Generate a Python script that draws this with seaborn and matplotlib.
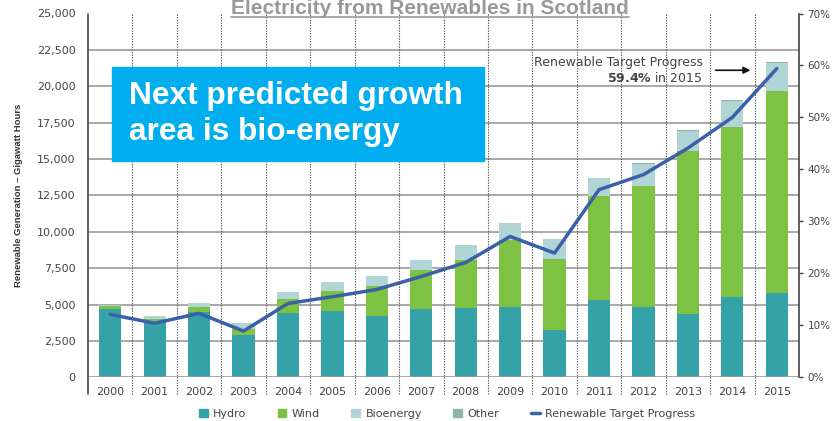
import numpy as np
import pandas as pd
import seaborn as sns
import matplotlib.pyplot as plt
from matplotlib.lines import Line2D
from matplotlib.patches import Patch
from matplotlib.ticker import FuncFormatter

years = list(range(2000, 2016))
hydro = [4706, 3830, 4480, 2920, 4450, 4590, 4245, 4685, 4730, 4865, 3260, 5325, 4845, 4360, 5485, 5790]
wind = [225, 160, 385, 430, 920, 1335, 2025, 2660, 3350, 4545, 4900, 7165, 8335, 11185, 11740, 13870]
bioenergy = [40, 230, 235, 370, 480, 620, 710, 690, 1035, 1200, 1370, 1220, 1470, 1355, 1745, 1930]
other = [30, 0, 0, 0, 0, 0, 0, 0, 0, 0, 0, 0, 95, 90, 90, 110]
target_pct = [12.1, 10.4, 12.3, 8.9, 14.2, 15.5, 16.9, 19.4, 22.1, 27.1, 23.9, 36.1, 39.0, 44.1, 50.0, 59.4]

c_hydro, c_wind, c_bio, c_other = '#35a2a8', '#7dc242', '#b1d4d7', '#8fb3a7'
c_line = '#3a60a8'
txt = '#444444'

df = pd.DataFrame({'year': years, 'hydro': hydro, 'wind': wind,
                   'bio': bioenergy, 'other': other, 'pct': target_pct})
df['s_hydro'] = df['hydro']
df['s_wind'] = df['s_hydro'] + df['wind']
df['s_bio'] = df['s_wind'] + df['bio']
df['s_other'] = df['s_bio'] + df['other']

sns.set_theme(style='white')
plt.rcParams['font.family'] = ['DejaVu Sans']

fig = plt.figure(figsize=(8.34, 4.21), dpi=100)
ax = fig.add_axes([88 / 834, 1 - 377.3 / 421, 711 / 834, 363.8 / 421])

# stacked bars by overlaying cumulative totals (tallest first)
for col, color in [('s_other', c_other), ('s_bio', c_bio), ('s_wind', c_wind), ('s_hydro', c_hydro)]:
    sns.barplot(data=df, x='year', y=col, ax=ax, color=color, width=0.5,
                native_scale=True, orient='x', errorbar=None, saturation=1,
                edgecolor='none', zorder=3)

ax.set_xlim(1999.5, 2015.5)
ax.set_ylim(0, 25000)
ax.set_xlabel('')
ax.set_ylabel('Renewable Generation \u2013 Gigawatt Hours', fontsize=6.8,
              fontweight='bold', color='#333333', family='Liberation Sans', labelpad=10)
yt = np.arange(0, 25001, 2500)
ax.set_yticks(yt)
ax.yaxis.set_major_formatter(FuncFormatter(lambda v, p: f'{int(v):,}'))
ax.set_xticks(years)
ax.set_xticklabels([str(y) for y in years])
ax.tick_params(axis='both', labelsize=8, labelcolor=txt, length=0)
ax.tick_params(axis='x', pad=7)
ax.tick_params(axis='y', pad=9)

for v in yt[1:-1]:
    ax.axhline(v, color='#9a9a9a', lw=1.2, zorder=1)
ax.axhline(0, color='#999999', lw=1.2, zorder=4)
for b in np.arange(2000.5, 2015.5, 1):
    ax.axvline(b, ymin=-0.045, ymax=1, color='#555555', lw=0.8,
               ls=(0, (1.2, 1.2)), clip_on=False, zorder=1)
ax.axvline(1999.5, ymin=-0.045, ymax=1, color='#444444', lw=1.2, clip_on=False, zorder=4)
for s in ['top', 'bottom', 'left', 'right']:
    ax.spines[s].set_visible(False)

# target progress line on secondary axis
ax2 = ax.twinx()
sns.lineplot(data=df, x='year', y='pct', ax=ax2, color=c_line, lw=2.5, zorder=5)
ax2.set_ylim(0, 70)
ax2.set_ylabel('')
ax2.set_yticks(np.arange(0, 71, 10))
ax2.yaxis.set_major_formatter(FuncFormatter(lambda v, p: f'{int(v)}%'))
ax2.tick_params(axis='y', labelsize=7.5, labelcolor=txt, length=3, width=1,
                color='#444444', direction='out', pad=3)
for s in ['top', 'bottom', 'left']:
    ax2.spines[s].set_visible(False)
ax2.spines['right'].set_color('#444444')
ax2.spines['right'].set_linewidth(1.2)

# annotation
ax.text(2013.33, 21620, 'Renewable Target Progress', ha='right', va='center',
        fontsize=9, color=txt, zorder=6)
ax.text(2013.33, 20600, r'$\bf{59.4\%}$ in 2015', ha='right', va='center',
        fontsize=9, color=txt, zorder=6)
ax.annotate('', xy=(2014.47, 21100), xytext=(2013.56, 21100),
            arrowprops=dict(arrowstyle='-|>', color='#111111', lw=1.2, mutation_scale=10),
            zorder=6)

# callout box
fig.patches.append(plt.Rectangle((112 / 834, 1 - 161 / 421), 372 / 834, 94 / 421,
                                 transform=fig.transFigure, color='#00aeef', zorder=10))
fig.text(129 / 834, 1 - 114 / 421, 'Next predicted growth\narea is bio-energy',
         family='Liberation Sans', fontweight='bold', fontsize=22.8, color='white',
         ha='left', va='center', linespacing=1.25, zorder=11)

# title with underline
title = fig.text(430 / 834, 1 - 14 / 421, 'Electricity from Renewables in Scotland',
                 family='Liberation Sans', fontweight='bold', fontsize=15, color='#999999',
                 ha='center', va='baseline')
fig.canvas.draw()
bb = title.get_window_extent().transformed(fig.transFigure.inverted())
fig.add_artist(Line2D([bb.x0, bb.x1], [1 - 17 / 421] * 2, color='#999999', lw=1.2))

# legend
handles = [Patch(color=c_hydro), Patch(color=c_wind), Patch(color=c_bio), Patch(color=c_other),
           Line2D([], [], color=c_line, lw=2.5)]
labels = ['Hydro', 'Wind', 'Bioenergy', 'Other', 'Renewable Target Progress']
fig.legend(handles, labels, loc='center', bbox_to_anchor=(447 / 834, 1 - 414 / 421),
           ncol=5, frameon=False, fontsize=8, labelcolor=txt, handlelength=0.8,
           handleheight=0.8, handletextpad=0.5, columnspacing=2.8)

fig.savefig('out.png', dpi=100)
